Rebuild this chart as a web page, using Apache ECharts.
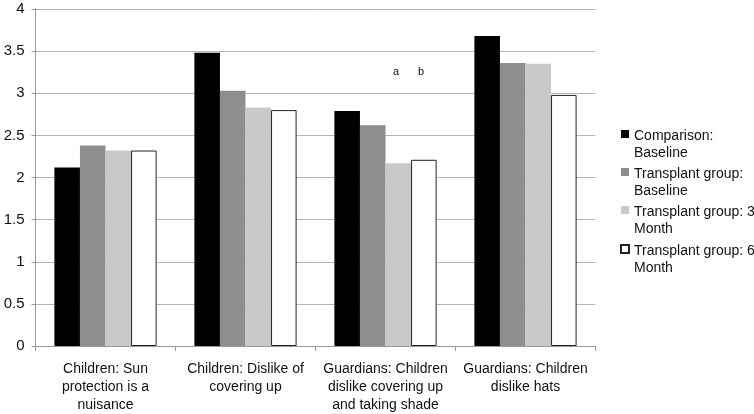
<!DOCTYPE html>
<html><head><meta charset="utf-8">
<script src="https://cdn.jsdelivr.net/npm/echarts@6/dist/echarts.min.js"></script>
<style>html,body{margin:0;padding:0;background:#fff}#c{width:754px;height:414px}</style>
</head><body><div id="c"></div>
<script>
const categories = [
  "Children: Sun\nprotection is a\nnuisance",
  "Children: Dislike of\ncovering up",
  "Guardians: Children\ndislike covering up\nand taking shade",
  "Guardians: Children\ndislike hats"
];
const seriesNames = [
  "Comparison:\nBaseline",
  "Transplant group:\nBaseline",
  "Transplant group: 3\nMonth",
  "Transplant group: 6\nMonth"
];
const comparisonBaseline = [2.12, 3.48, 2.79, 3.68];
const transplantBaseline = [2.38, 3.03, 2.62, 3.36];
const transplant3Month = [2.32, 2.83, 2.17, 3.35];
const transplant6Month = [2.32, 2.80, 2.21, 2.98];
const yTicks = [0, 0.5, 1, 1.5, 2, 2.5, 3, 3.5, 4];
const annotations = ["a", "b"];

const font = '"Liberation Sans", Arial, sans-serif';
const colors = ['#000000', '#8e8e8e', '#c9c9c9', '#ffffff'];
const values = [comparisonBaseline, transplantBaseline, transplant3Month, transplant6Month];
const icon = 'path://M0,0M8,34M0,2L8,2L8,10L0,10Z';

const chart = echarts.init(document.getElementById('c'), null, {renderer: 'canvas'});
chart.setOption({
  animation: false,
  backgroundColor: '#fff',
  grid: {left: 35.5, right: 158.5, top: 9, bottom: 63.5},
  legend: {
    orient: 'vertical', left: 615, top: 123,
    itemWidth: 8, itemHeight: 34, itemGap: 4,
    icon: icon, symbolKeepAspect: false,
    textStyle: {fontFamily: font, fontSize: 14, color: '#111', lineHeight: 17},
    data: seriesNames
  },
  xAxis: {
    type: 'category', data: categories,
    axisLine: {lineStyle: {color: '#999', width: 1}},
    axisTick: {show: true, length: 5, lineStyle: {color: '#999'}},
    axisLabel: {fontFamily: font, fontSize: 14, color: '#111', lineHeight: 18, margin: 14, interval: 0}
  },
  yAxis: {
    type: 'value', min: 0, max: 4, interval: 0.5,
    axisLine: {show: true, lineStyle: {color: '#999'}},
    axisTick: {show: true, length: 4, lineStyle: {color: '#999'}},
    splitLine: {lineStyle: {color: '#b5b5b5', width: 1}},
    axisLabel: {fontFamily: font, fontSize: 15, color: '#111', margin: 11,
      formatter: v => yTicks.includes(v) ? String(v) : ''}
  },
  series: seriesNames.map((n, i) => ({
    name: n, type: 'bar', data: values[i],
    barGap: '0%', barCategoryGap: '27%',
    itemStyle: i === 3 ? {color: colors[i], borderColor: '#222', borderWidth: 1} : {color: colors[i]}
  })),
  graphic: [
    {type: 'text', left: 393, top: 66, style: {text: annotations[0], fontFamily: font, fontSize: 11, fill: '#111'}},
    {type: 'text', left: 418, top: 66, style: {text: annotations[1], fontFamily: font, fontSize: 11, fill: '#111'}}
  ]
});
</script></body></html>
